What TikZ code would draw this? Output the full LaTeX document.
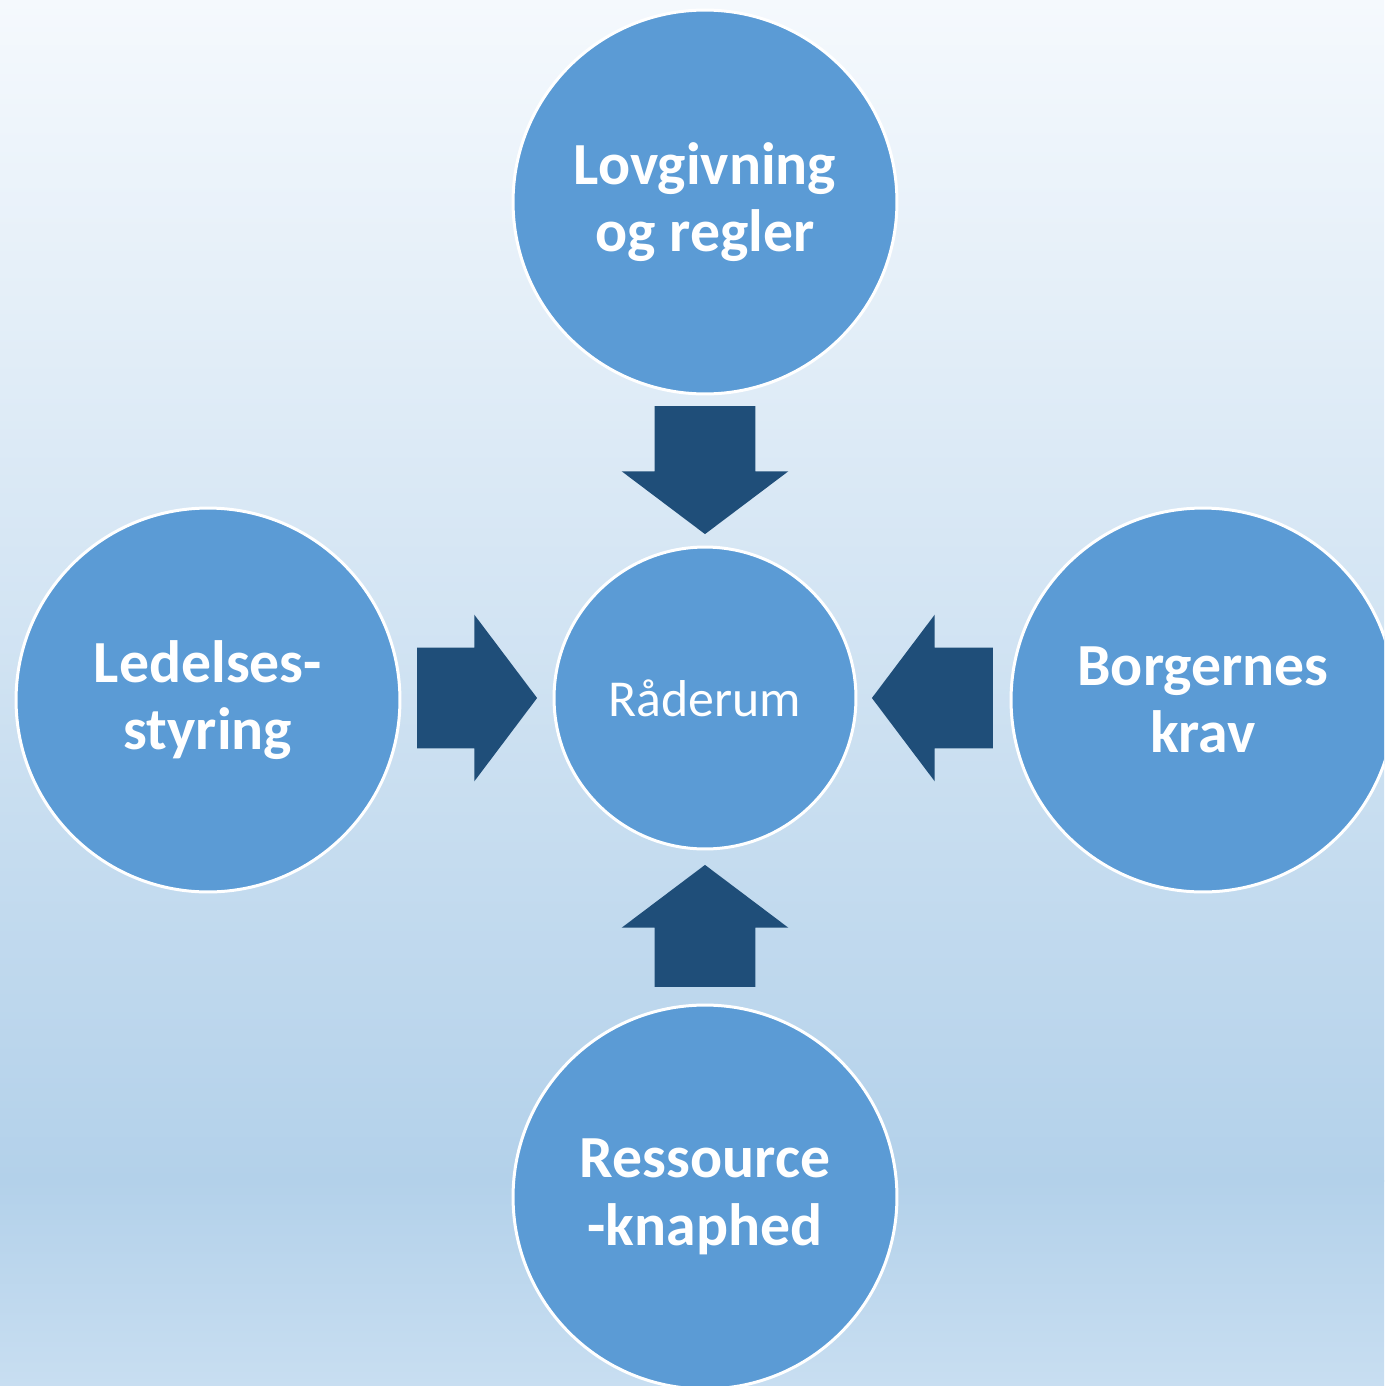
\documentclass[tikz,border=0pt]{standalone}
\usepackage{fontspec}
\setmainfont{Carlito}
\usepackage{tikz}
\usetikzlibrary{calc, positioning, shapes.arrows}

\definecolor{cirkelblaa}{HTML}{5B9BD5}
\definecolor{pilblaa}{HTML}{1F4E79}
\definecolor{bgtop}{HTML}{F5F9FD}
\definecolor{bgmork}{HTML}{B3D1EA}
\definecolor{bgbund}{HTML}{C8DEF1}

\begin{document}
\begin{tikzpicture}[x=0.02cm, y=-0.02cm,
		cirkel/.style={circle, draw=white, line width=0.06cm, fill=cirkelblaa, text=white, align=center, inner sep=0pt},
		stor/.style={cirkel, minimum size=7.68cm, font=\bfseries\fontsize{34}{38.5}\selectfont},
		pil/.style={single arrow, fill=pilblaa, inner xsep=0pt, inner ysep=1cm,
			single arrow head extend=0.66cm, single arrow tip angle=106}]

		% baggrund
		\useasboundingbox (0,0) rectangle (1384,1386);
		\clip (0,0) rectangle (1384,1386);
		\shade[top color=bgtop, bottom color=bgmork] (0,0) rectangle (1384,1181);
		\shade[top color=bgmork, bottom color=bgbund] (0,1180) rectangle (1384,1386);

		\node[cirkel, minimum size=6.04cm, font=\fontsize{29.5}{32}\selectfont] (raad) at (705,698) {Råderum};

		\node[stor] (lov) at (705,202) {Lovgivning\\og regler};
		\node[stor] (ledelse) at (208,700) {Ledelses-\\styring};
		\node[stor] (borger) at (1203,700) {Borgernes\\krav};
		\node[stor] (ressource) at (705,1197) {Ressource\\-knaphed};

		% pile ind mod midten
		\node[pil, rotate=-90, minimum height=2.56cm, anchor=tip] (pilLov) at ($(raad.north)+(0,-11)$) {};
		\node[pil, minimum height=2.4cm, anchor=tip] (pilLedelse) at ($(raad.west)+(-15,0)$) {};
		\node[pil, rotate=180, minimum height=2.42cm, anchor=tip] (pilBorger) at ($(raad.east)+(14,0)$) {};
		\node[pil, rotate=90, minimum height=2.44cm, anchor=tip] (pilRessource) at ($(raad.south)+(0,14)$) {};

	\end{tikzpicture}
\end{document}
